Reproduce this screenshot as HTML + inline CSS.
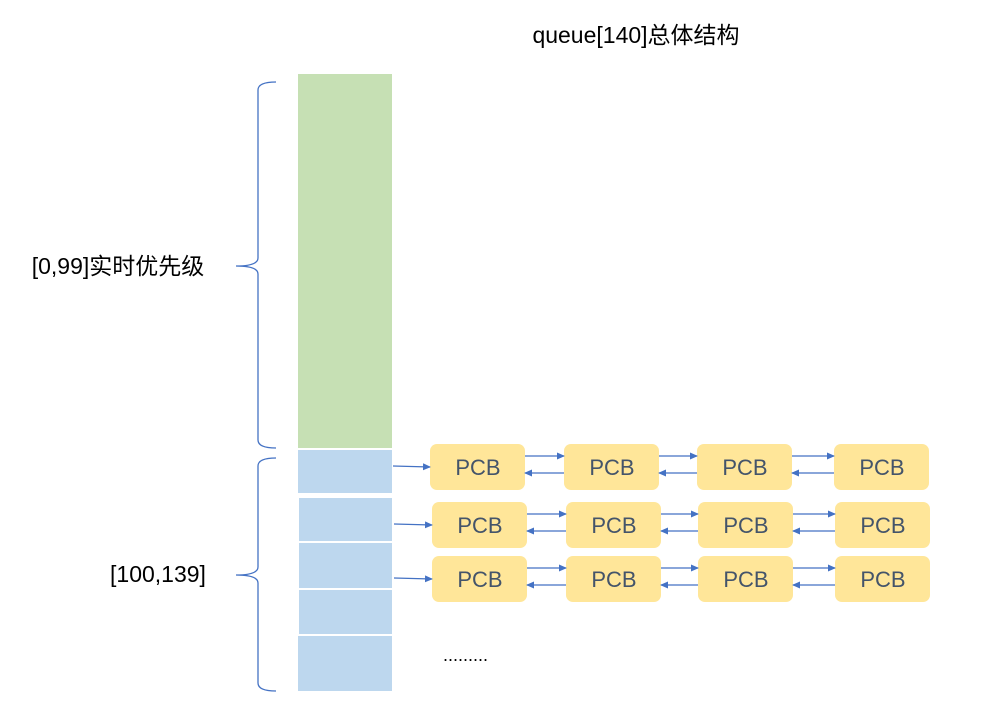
<!DOCTYPE html>
<html><head><meta charset="utf-8"><style>
body{margin:0;background:#fff;width:998px;height:707px;overflow:hidden}
svg text{font-family:"Liberation Sans","Noto Sans CJK SC",sans-serif}
</style></head><body>
<svg width="998" height="707" xmlns="http://www.w3.org/2000/svg">
<defs><marker id="a" markerWidth="8" markerHeight="8" refX="7" refY="4" orient="auto" markerUnits="userSpaceOnUse"><path d="M0,0.5 L8,4 L0,7.5z" fill="#4472c4"/></marker></defs>
<text x="636" y="43" font-size="23" text-anchor="middle" fill="#000">queue[140]总体结构</text>
<rect x="298" y="74" width="94" height="374" fill="#c6e0b4"/>
<g fill="#bdd7ee">
<rect x="298" y="450" width="94" height="43"/>
<rect x="299" y="498" width="93" height="43"/>
<rect x="299" y="543" width="93" height="45"/>
<rect x="299" y="590" width="93" height="44"/>
<rect x="298" y="636" width="94" height="55"/>
</g>
<g fill="none" stroke="#4472c4" stroke-width="1.3">
<path d="M276,82 Q258,82 258,90 L258,258 Q258,266 236,266 Q258,266 258,274 L258,440 Q258,448 276,448"/>
<path d="M276,458 Q258,458 258,466 L258,567 Q258,575 236,575 Q258,575 258,583 L258,683 Q258,691 276,691"/>
</g>
<text x="118" y="274" font-size="23" text-anchor="middle">[0,99]实时优先级</text>
<text x="158" y="582" font-size="23" text-anchor="middle">[100,139]</text>
<g fill="#ffe699">
<rect x="430" y="444" width="95" height="46" rx="7"/><rect x="564" y="444" width="95" height="46" rx="7"/><rect x="697" y="444" width="95" height="46" rx="7"/><rect x="834" y="444" width="95" height="46" rx="7"/>
<rect x="432" y="502" width="95" height="46" rx="7"/><rect x="566" y="502" width="95" height="46" rx="7"/><rect x="698" y="502" width="95" height="46" rx="7"/><rect x="835" y="502" width="95" height="46" rx="7"/>
<rect x="432" y="556" width="95" height="46" rx="7"/><rect x="566" y="556" width="95" height="46" rx="7"/><rect x="698" y="556" width="95" height="46" rx="7"/><rect x="835" y="556" width="95" height="46" rx="7"/>
</g>
<g font-size="22" fill="#44546a" text-anchor="middle">
<text x="478" y="475">PCB</text><text x="612" y="475">PCB</text><text x="745" y="475">PCB</text><text x="882" y="475">PCB</text>
<text x="480" y="533">PCB</text><text x="614" y="533">PCB</text><text x="746" y="533">PCB</text><text x="883" y="533">PCB</text>
<text x="480" y="587">PCB</text><text x="614" y="587">PCB</text><text x="746" y="587">PCB</text><text x="883" y="587">PCB</text>
</g>
<g stroke="#4472c4" stroke-width="1.3" marker-end="url(#a)">
<line x1="393" y1="466" x2="430" y2="467"/>
<line x1="394" y1="524" x2="432" y2="525"/>
<line x1="394" y1="578" x2="432" y2="579"/>
<line x1="525" y1="456" x2="564" y2="456"/><line x1="564" y1="473" x2="525" y2="473"/>
<line x1="659" y1="456" x2="697" y2="456"/><line x1="697" y1="473" x2="659" y2="473"/>
<line x1="792" y1="456" x2="834" y2="456"/><line x1="834" y1="473" x2="792" y2="473"/>
<line x1="527" y1="514" x2="566" y2="514"/><line x1="566" y1="531" x2="527" y2="531"/>
<line x1="661" y1="514" x2="698" y2="514"/><line x1="698" y1="531" x2="661" y2="531"/>
<line x1="793" y1="514" x2="835" y2="514"/><line x1="835" y1="531" x2="793" y2="531"/>
<line x1="527" y1="568" x2="566" y2="568"/><line x1="566" y1="585" x2="527" y2="585"/>
<line x1="661" y1="568" x2="698" y2="568"/><line x1="698" y1="585" x2="661" y2="585"/>
<line x1="793" y1="568" x2="835" y2="568"/><line x1="835" y1="585" x2="793" y2="585"/>
</g>
<text x="443" y="661" font-size="18" fill="#000">.........</text>
</svg>
</body></html>
